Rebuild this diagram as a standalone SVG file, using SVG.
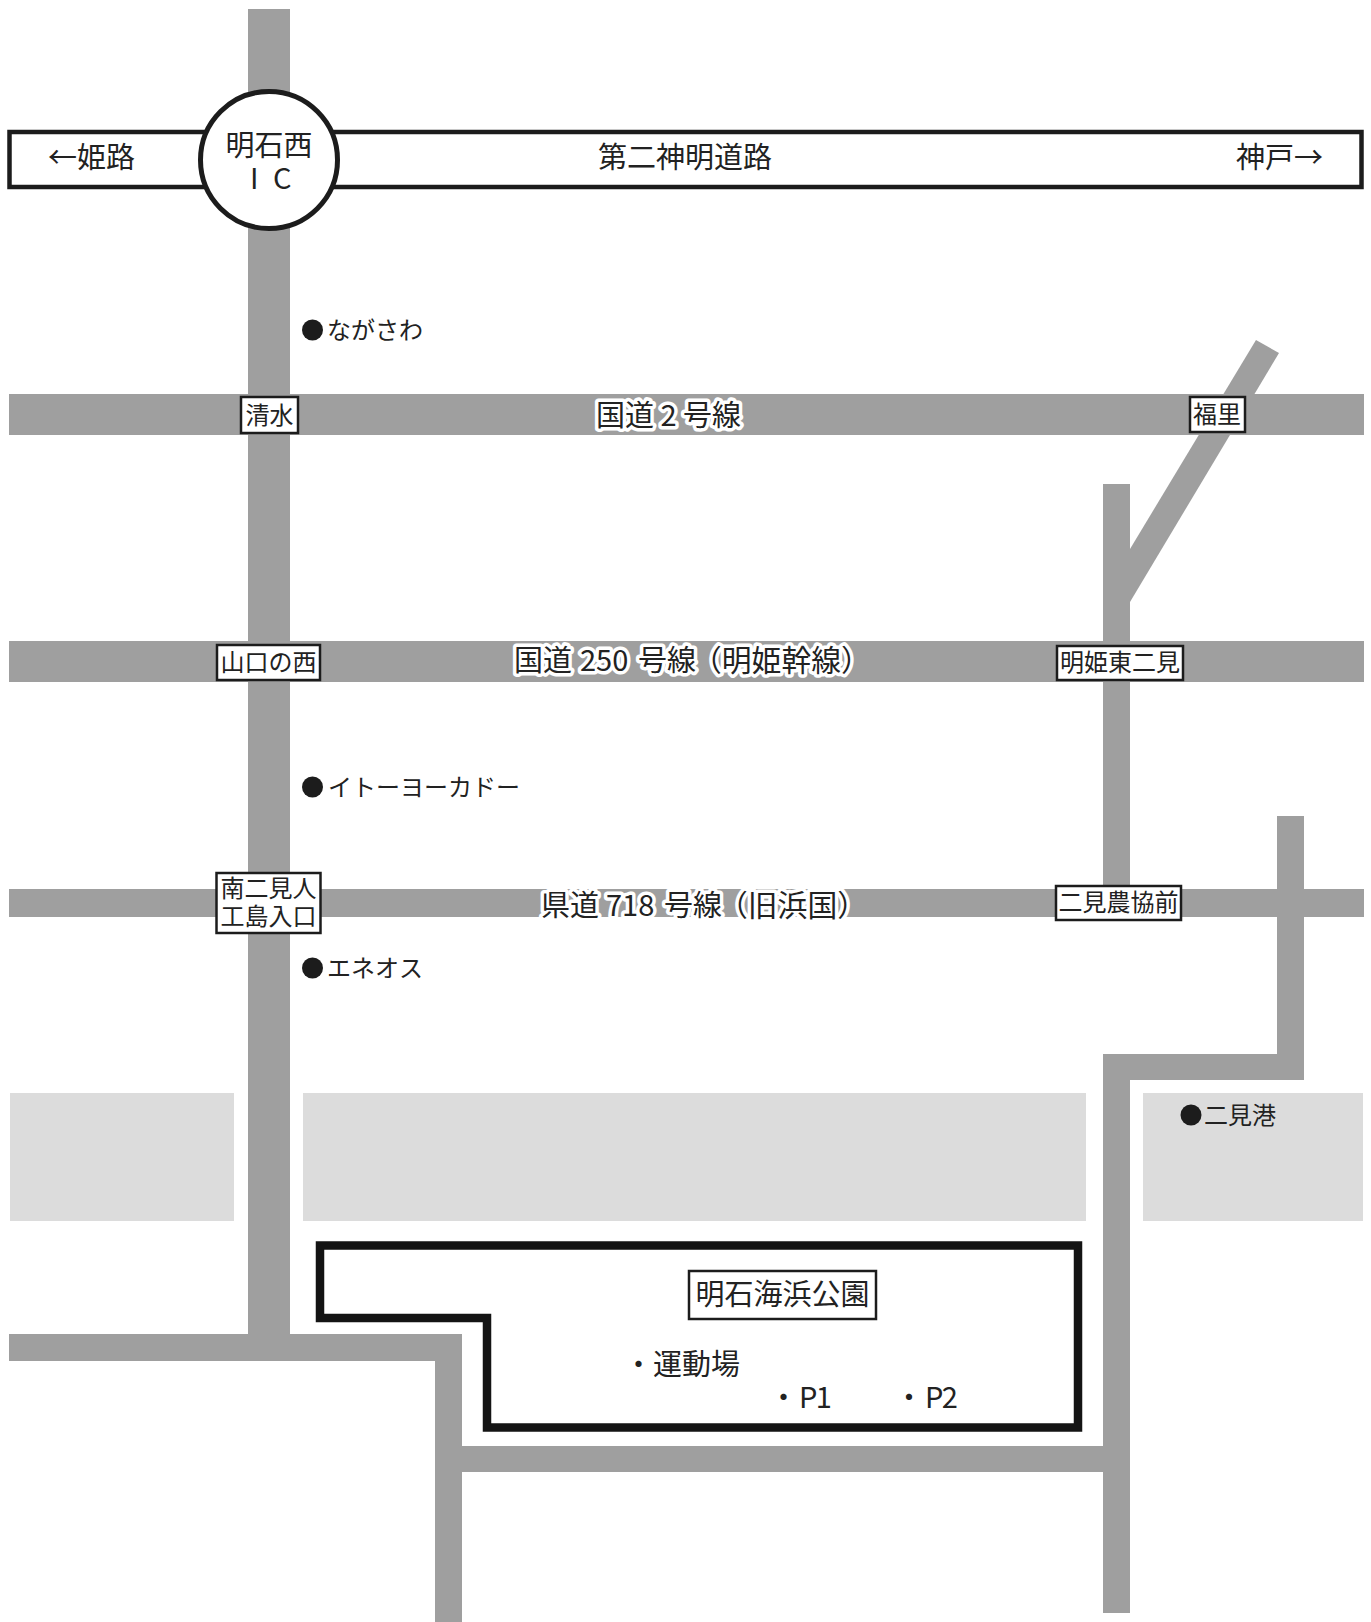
<svg xmlns="http://www.w3.org/2000/svg" width="1371" height="1622" viewBox="0 0 1371 1622">
<style>
text{font-family:"Noto Sans CJK JP","Noto Sans",sans-serif;fill:#222}
.road{fill:#9f9f9f}
.band{fill:#dcdcdc}
.l{font-size:29px}
.m{font-size:24px}
.halo{font-size:29px;stroke:#fff;stroke-width:7px;stroke-linejoin:round;paint-order:stroke}
.wide{font-size:29.8px}
.box{fill:#fff;stroke:#1c1c1c;stroke-width:2.5}
.dot{fill:#1c1c1c}
.p{letter-spacing:-1.5px}
</style>
<rect width="1371" height="1622" fill="#fff"/>
<g id="bands">
<rect class="band" x="10" y="1093" width="224" height="128"/>
<rect class="band" x="303" y="1093" width="783" height="128"/>
<rect class="band" x="1143" y="1093" width="220" height="128"/>
</g>
<g id="connectors">
<rect class="road" x="248" y="9" width="42" height="1330"/>
<rect class="road" x="9" y="394" width="1355" height="41"/>
<rect class="road" x="9" y="641" width="1355" height="41"/>
<rect class="road" x="9" y="889" width="1355" height="28"/>
<polygon class="road" points="1256,340 1279,353 1130,602 1130,549"/>
<rect class="road" x="1103" y="484" width="27" height="405"/>
<rect class="road" x="1277" y="816" width="27" height="264"/>
<rect class="road" x="1103" y="1054" width="201" height="26"/>
<rect class="road" x="1103" y="1054" width="27" height="559"/>
<rect class="road" x="9" y="1334" width="453" height="27"/>
<rect class="road" x="435" y="1334" width="27" height="288"/>
<rect class="road" x="462" y="1446" width="641" height="26"/>
</g>
<g id="expressway">
<rect x="9.5" y="132" width="1352" height="55" fill="#fff" stroke="#1c1c1c" stroke-width="4.5"/>
<text class="l" x="48" y="168">←姫路</text>
<text class="l" x="598" y="168">第二神明道路</text>
<text class="l" x="1236" y="168">神戸→</text>
</g>
<g id="ic">
<circle cx="269" cy="160" r="68.5" fill="#fff" stroke="#1c1c1c" stroke-width="5"/>
<text class="l" x="269" y="156" text-anchor="middle">明石西</text>
<text class="l" x="250" y="189" style="word-spacing:8px">I C</text>
</g>
<g id="label-route2"><text class="halo" x="596" y="426">国道 2 号線</text></g>
<g id="label-route250"><text class="halo" y="671"><tspan x="514">国道 </tspan><tspan x="580">250 </tspan><tspan x="638">号線</tspan><tspan class="wide" x="692">（明姫幹線）</tspan></text></g>
<g id="label-route718"><text class="halo" y="916"><tspan x="541">県道 </tspan><tspan x="606">718 </tspan><tspan x="664">号線</tspan><tspan class="wide" x="718">（旧浜国）</tspan></text></g>
<g id="shimizu"><rect class="box" x="241" y="397" width="57" height="36"/><text class="m" x="269.5" y="424" text-anchor="middle">清水</text></g>
<g id="fukusato"><rect class="box" x="1190" y="397" width="55" height="35"/><text class="m" x="1217" y="423" text-anchor="middle">福里</text></g>
<g id="yamaguchi"><rect class="box" x="217" y="645" width="103" height="35"/><text class="m" x="268.5" y="671" text-anchor="middle">山口の西</text></g>
<g id="meiki"><rect class="box" x="1057" y="646" width="126" height="34"/><text class="m" x="1120" y="671" text-anchor="middle">明姫東二見</text></g>
<g id="minami"><rect class="box" x="216.5" y="873" width="104" height="60"/><text class="m" x="268.5" y="897" text-anchor="middle">南二見人</text><text class="m" x="268.5" y="925" text-anchor="middle">工島入口</text></g>
<g id="nokyo"><rect class="box" x="1056" y="886" width="125" height="34"/><text class="m" x="1118.5" y="911" text-anchor="middle">二見農協前</text></g>
<g id="nagasawa"><circle class="dot" cx="312.5" cy="330" r="10.5"/><text class="m" x="327" y="339">ながさわ</text></g>
<g id="itoyokado"><circle class="dot" cx="312.5" cy="787" r="10.5"/><text class="m" x="328" y="796">イトーヨーカドー</text></g>
<g id="eneos"><circle class="dot" cx="312.5" cy="968" r="10.5"/><text class="m" x="327" y="977">エネオス</text></g>
<g id="futamiko"><circle class="dot" cx="1191" cy="1115" r="10.5"/><text class="m" x="1204" y="1124">二見港</text></g>
<g id="park">
<polygon points="320,1245.5 1078,1245.5 1078,1427.5 487,1427.5 487,1318 320,1318" fill="#fff" stroke="#141414" stroke-width="8.5"/>
<rect class="box" x="689" y="1271" width="187" height="48"/>
<text class="l" x="782.5" y="1305" text-anchor="middle">明石海浜公園</text>
<text class="l" x="624" y="1375">・運動場</text>
<text class="l" x="769" y="1408">・<tspan class="p" x="799">P1</tspan></text>
<text class="l" x="894.5" y="1408">・<tspan class="p" x="925">P2</tspan></text>
</g>
</svg>
